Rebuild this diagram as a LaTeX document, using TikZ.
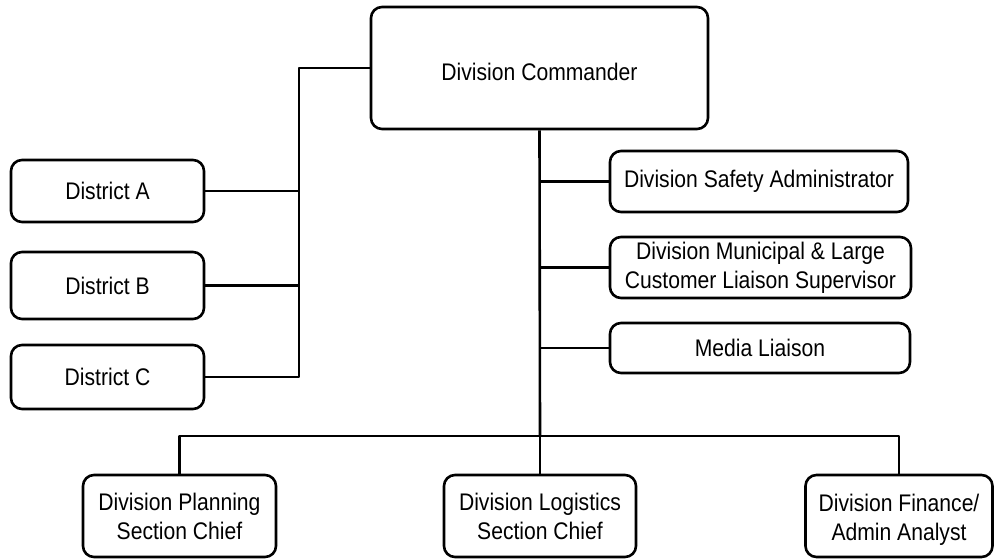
\documentclass[tikz,border=0pt]{standalone}
\usepackage{fontspec}
\setmainfont[FakeStretch=0.88]{Liberation Sans}
\begin{document}
\begin{tikzpicture}[x=1pt,y=-1pt,
  line width=2.6pt, line join=round,
  unit/.style={draw, rounded corners=11pt, inner sep=0pt, align=center,
    font=\fontsize{24}{29}\selectfont},
  caption/.style={inner sep=0pt, align=center, font=\fontsize{24}{29}\selectfont},
  link/.style={draw, rounded corners=0pt}]
\useasboundingbox (0,0) rectangle (994,559);

% Command level
\node[unit, minimum width=337pt, minimum height=122pt] (cmd) at (539.5,68) {};
\node[caption] (cmdtext) at ([yshift=-4pt]cmd.center) {Division Commander};

% Districts (left)
\node[unit, minimum width=193pt, minimum height=62pt] (dA) at (107.5,191) {District A};
\node[unit, minimum width=193pt, minimum height=67pt] (dB) at (107.5,285.5) {District B};
\node[unit, minimum width=193pt, minimum height=64pt] (dC) at (107.5,377) {District C};

% Staff (right)
\node[unit, minimum width=298pt, minimum height=61pt] (safety) at (759,181.5) {Division Safety Administrator};
\node[unit, minimum width=301pt, minimum height=61pt] (muni) at (760.5,267.5) {Division Municipal \& Large\\Customer Liaison Supervisor};
\node[unit, minimum width=300pt, minimum height=50pt] (media) at (760,348) {Media Liaison};

% Sections (bottom)
\node[unit, minimum width=193pt, minimum height=82pt] (plan) at (179.5,516) {Division Planning\\Section Chief};
\node[unit, minimum width=192pt, minimum height=82pt] (logi) at (540,516) {Division Logistics\\Section Chief};
\node[unit, minimum width=187pt, minimum height=82pt] (fin) at (899,516) {};
\node[caption] (fintext) at ([yshift=-4pt]fin.center) {Division Finance/\\Admin Analyst};

% Junction points
\coordinate (dtop) at (299,68);
\coordinate (bus) at (540,436);

% District branch
\draw[link] (cmd.west) -- (dtop) -- (dtop |- dC.east) -- (dC.east);
\draw[link] (dA.east) -- (dtop |- dA.east);
\draw[link] (dB.east) -- (dtop |- dB.east);

% Main trunk and staff branches
\draw[link] (cmd.south) -- (bus);
\draw[link] (safety.west) -- (safety.west -| bus);
\draw[link] (muni.west) -- (muni.west -| bus);
\draw[link] (media.west) -- (media.west -| bus);

% Section bus
\draw[link] (plan.north) -- (plan.north |- bus) -- (fin.north |- bus) -- (fin.north);
\draw[link] (bus) -- (logi.north);
\end{tikzpicture}
\end{document}
